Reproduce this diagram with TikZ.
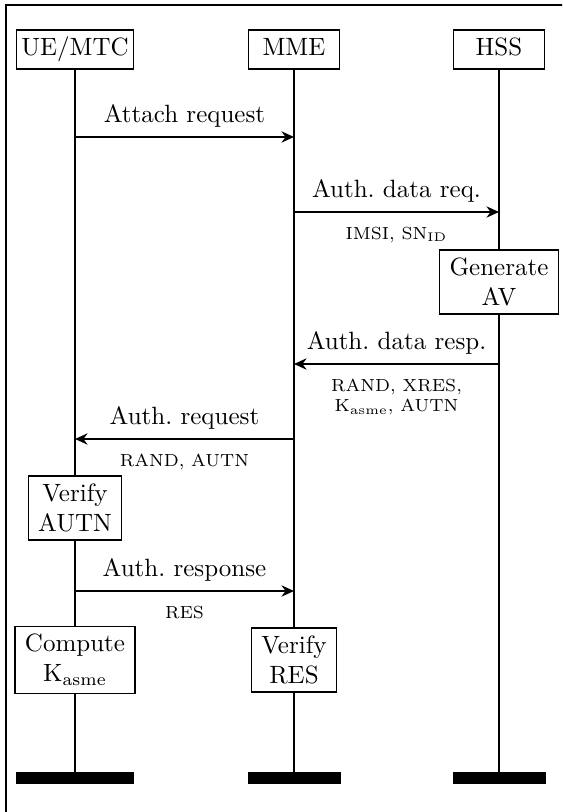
\documentclass[tikz,border=0pt]{standalone}
\usetikzlibrary{arrows.meta}
\begin{document}
\begin{tikzpicture}[x=0.4pt,y=-0.4pt,
  entity/.style={draw,line width=0.5pt,fill=white,text height=7.5pt,text depth=2.5pt,inner xsep=2pt,inner ysep=2.8pt,minimum width=36.6pt},
  actbox/.style={draw,line width=0.5pt,fill=white,align=center,inner xsep=4pt,inner ysep=3.2pt},
  life/.style={line width=0.9pt},
  msg/.style={line width=0.8pt,-{Stealth[length=5pt,width=4.5pt]}},
  msglabel/.style={above},
  param/.style={font=\scriptsize,align=center,below=2.3pt},
  endbar/.style={fill=black,draw=none,minimum height=4.8pt,inner sep=0pt}]
\useasboundingbox (0,0) rectangle (562,812);
\clip (0,0) rectangle (562,812);
\draw[line width=0.6pt] (6,5) rectangle (620,870);
% entities
\node[entity] (ue) at (75,49.5) {UE/MTC};
\node[entity] (mme) at (294,49.5) {MME};
\node[entity] (hss) at (499,49.5) {HSS};
% end bars
\node[endbar,minimum width=47.2pt] (ueend) at (75,778) {};
\node[endbar,minimum width=37.2pt] (mmeend) at (294,778) {};
\node[endbar,minimum width=37.2pt] (hssend) at (499,778) {};
% lifelines
\draw[life] (ue) -- (ueend);
\draw[life] (mme) -- (mmeend);
\draw[life] (hss) -- (hssend);
% message anchor points
\coordinate (a1) at (75,137);  \coordinate (b1) at (294,137);
\coordinate (a2) at (294,212); \coordinate (b2) at (499,212);
\coordinate (a3) at (499,364); \coordinate (b3) at (294,364);
\coordinate (a4) at (294,439); \coordinate (b4) at (75,439);
\coordinate (a5) at (75,591);  \coordinate (b5) at (294,591);
% messages
\draw[msg] (a1) -- node[msglabel] (l1) {Attach request} (b1);
\draw[msg] (a2) -- node[msglabel] (l2) {Auth.\ data req.}
  node[param] (p2) {IMSI, SN$_{\mathrm{ID}}$} (b2);
\draw[msg] (a3) -- node[msglabel] (l3) {Auth.\ data resp.}
  node[param] (p3) {RAND, XRES,\\K$_{\mathrm{asme}}$, AUTN} (b3);
\draw[msg] (a4) -- node[msglabel] (l4) {Auth.\ request}
  node[param] (p4) {RAND, AUTN} (b4);
\draw[msg] (a5) -- node[msglabel] (l5) {Auth.\ response}
  node[param] (p5) {RES} (b5);
% activity boxes
\node[actbox] (gen) at (499,282) {Generate\\AV};
\node[actbox] (vautn) at (75,508) {Verify\\AUTN};
\node[actbox] (comp) at (75,660) {Compute\\K$_{\mathrm{asme}}$};
\node[actbox] (vres) at (294,660) {Verify\\RES};
\end{tikzpicture}
\end{document}
